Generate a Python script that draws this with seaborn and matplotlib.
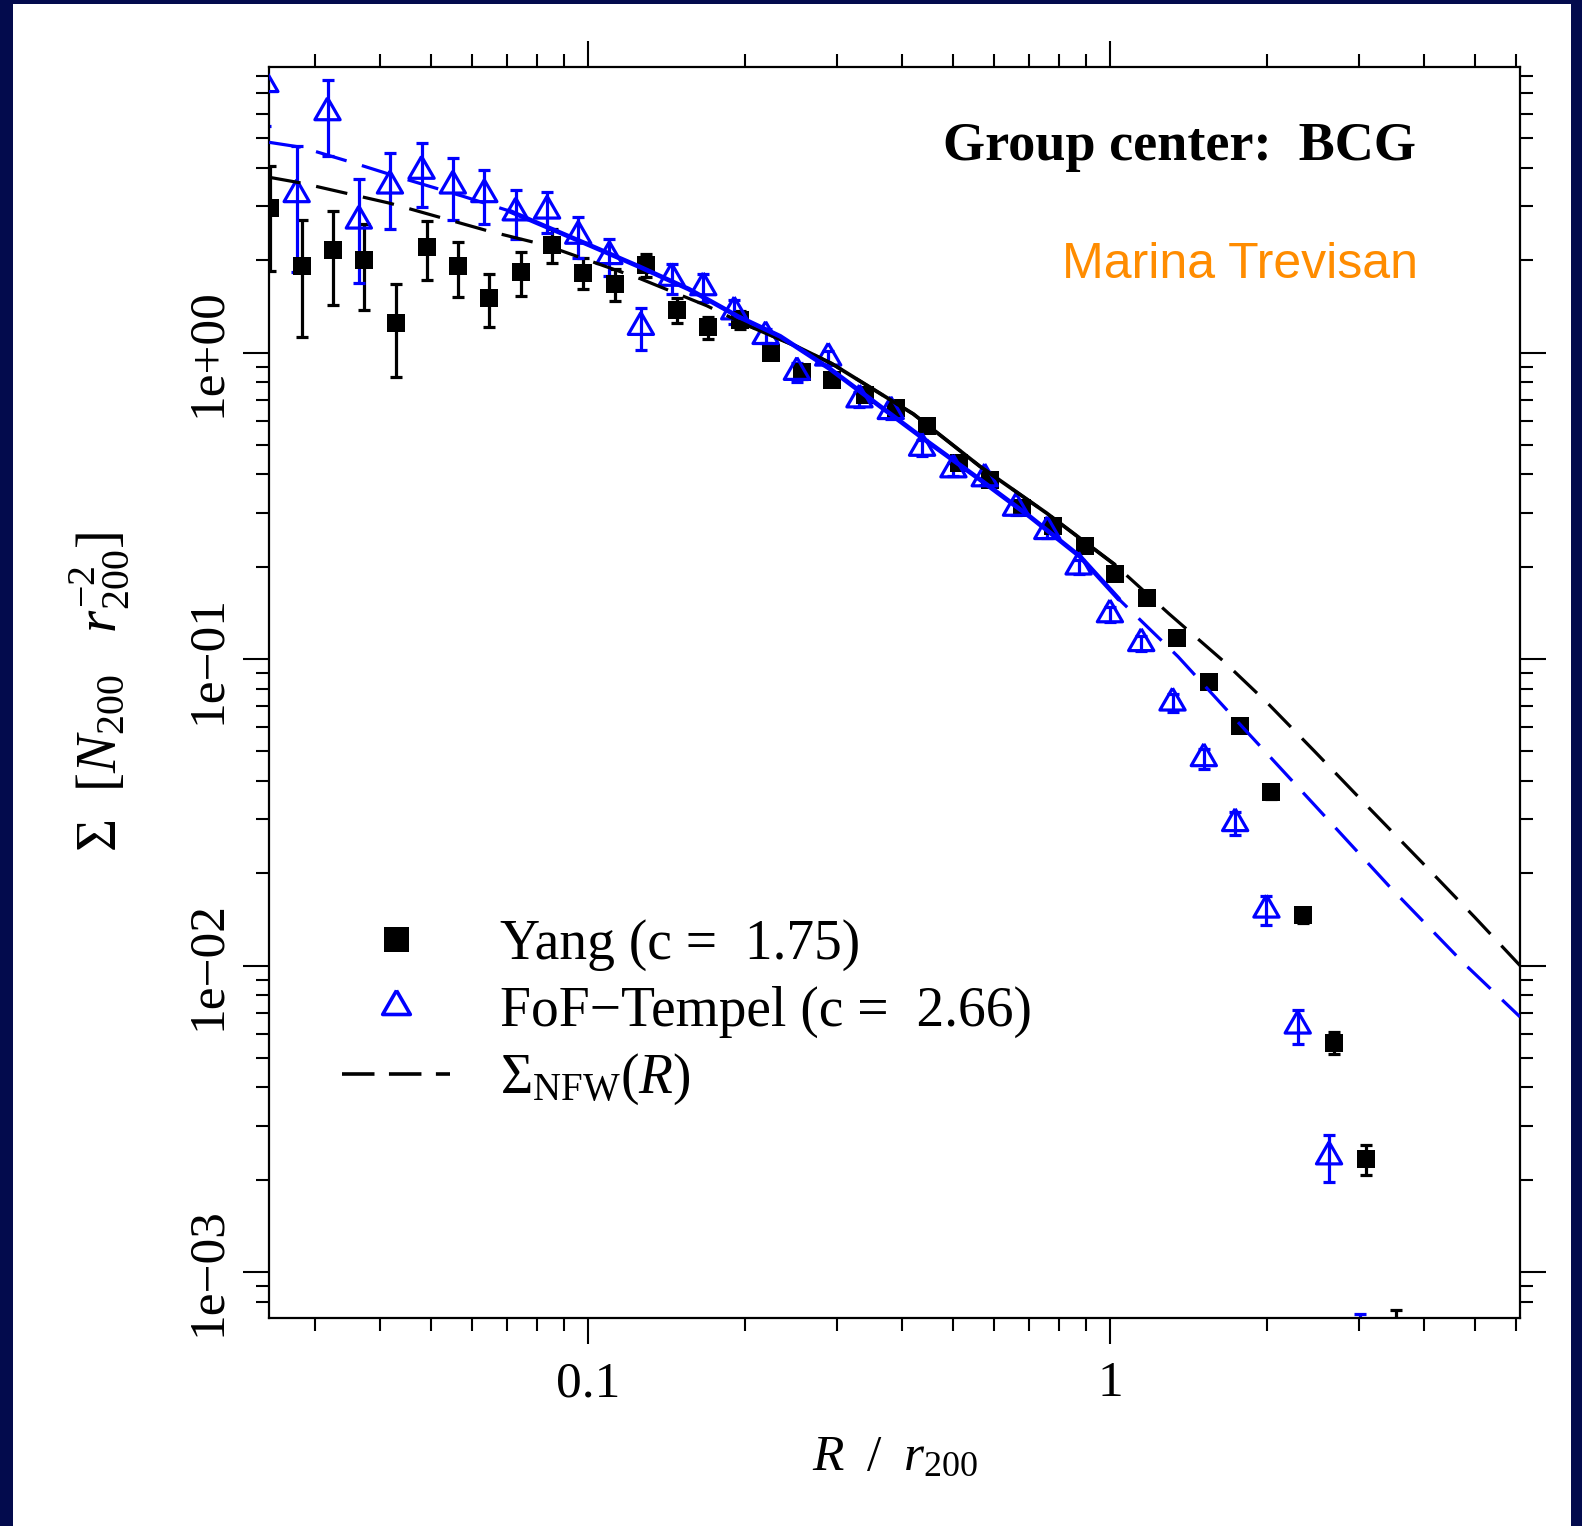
import numpy as np
import pandas as pd
import matplotlib
matplotlib.use("Agg")
import matplotlib.pyplot as plt
import matplotlib.patches as mpatches
from matplotlib.lines import Line2D
from matplotlib.ticker import LogLocator, NullFormatter
import seaborn as sns

# ---------------- data ----------------
yang_r = [0.0246, 0.0283, 0.0325, 0.0372, 0.0428, 0.0492, 0.0563, 0.0646, 0.0744, 0.0852,
          0.0980, 0.1127, 0.1290, 0.1480, 0.1700, 0.1955, 0.2240, 0.2566, 0.2940, 0.3394,
          0.3890, 0.4467, 0.5140, 0.5890, 0.6770, 0.7770, 0.8960, 1.0220, 1.1770, 1.3430,
          1.5480, 1.7740, 2.0330, 2.3430, 2.6860, 3.0930, 3.5300]
yang_sigma = [2.95, 1.91, 2.16, 2.00, 1.25, 2.21, 1.91, 1.51, 1.83, 2.24,
              1.82, 1.67, 1.93, 1.38, 1.21, 1.28, 1.00, 0.863, 0.816, 0.729,
              0.659, 0.574, 0.436, 0.385, 0.311, 0.271, 0.234, 0.190, 0.158, 0.117,
              0.0841, 0.0604, 0.0367, 0.01457, 0.0056, 0.00234, 0.0005]
yang_err = [1.10, 0.79, 0.73, 0.62, 0.42, 0.48, 0.39, 0.30, 0.30, 0.28,
            0.21, 0.20, 0.17, 0.13, 0.10, 0.09, 0.05, 0.045, 0.035, 0.03,
            0.025, 0.02, 0.018, 0.015, 0.012, 0.010, 0.008, 0.007, 0.006, 0.005,
            0.0035, 0.0025, 0.0017, 0.0008, 0.00045, 0.00026, 0.00025]

fof_r = [0.0241, 0.02767, 0.0317, 0.0364, 0.04175, 0.0480, 0.0551, 0.0633, 0.0727, 0.0835,
         0.0958, 0.1099, 0.1263, 0.1446, 0.1663, 0.1906, 0.2189, 0.2513, 0.2885, 0.3312,
         0.3802, 0.4365, 0.5012, 0.5754, 0.6605, 0.7583, 0.8706, 0.9995, 1.1475, 1.3174,
         1.5124, 1.7365, 1.9936, 2.2887, 2.6276, 3.0166]
fof_sigma = [7.5, 3.28, 6.07, 2.69, 3.50, 3.91, 3.50, 3.28, 2.86, 2.90,
             2.40, 2.06, 1.21, 1.75, 1.63, 1.36, 1.13, 0.863, 0.961, 0.702,
             0.643, 0.488, 0.415, 0.388, 0.311, 0.261, 0.200, 0.1397, 0.1125, 0.0720,
             0.0474, 0.0291, 0.0152, 0.00636, 0.00238, 0.00045]
fof_err = [2.0, 1.45, 1.70, 1.00, 0.98, 0.92, 0.80, 0.65, 0.52, 0.45,
           0.36, 0.29, 0.19, 0.20, 0.17, 0.12, 0.06, 0.06, 0.05, 0.04,
           0.035, 0.03, 0.02, 0.018, 0.015, 0.012, 0.010, 0.008, 0.006, 0.005,
           0.0035, 0.0025, 0.0016, 0.0008, 0.00041, 0.00028]

# NFW model curves
nfw_yang_r = [0.0245, 0.0283, 0.0417, 0.0645, 0.0829, 0.126, 0.169, 0.195, 0.25, 0.293,
              0.42, 0.5635, 0.7565, 1.022, 1.297, 1.644, 2.0, 2.476, 3.16, 3.98, 5.0, 6.1]
nfw_yang_sigma = [3.73, 3.57, 3.07, 2.49, 2.24, 1.74, 1.42, 1.26, 1.05, 0.92,
                  0.63, 0.425, 0.299, 0.203, 0.1405, 0.0989, 0.0720, 0.0496, 0.0322,
                  0.0215, 0.01435, 0.0100]
nfw_fof_r = [0.0245, 0.0283, 0.0353, 0.0426, 0.0574, 0.0705, 0.1, 0.125, 0.156, 0.194,
             0.2333, 0.29, 0.3625, 0.447, 0.5635, 0.703, 0.876, 1.04, 1.35, 1.784,
             2.476, 3.43, 4.76, 6.1]
nfw_fof_sigma = [4.85, 4.67, 4.17, 3.77, 3.24, 2.90, 2.25, 1.91, 1.61, 1.31,
                 1.13, 0.887, 0.668, 0.512, 0.385, 0.291, 0.216, 0.1567, 0.1018, 0.0606,
                 0.0331, 0.0181, 0.01017, 0.0068]
yang_fit_range = (0.195, 1.022)
fof_fit_range = (0.0705, 1.04)

xtick_values = [0.1, 1]
xtick_labels = ["0.1", "1"]
ytick_values = [1e-3, 1e-2, 1e-1, 1]
ytick_labels = ["1e\u221203", "1e\u221202", "1e\u221201", "1e+00"]

legend_labels = ["Yang (c =  1.75)", "FoF\u2212Tempel (c =  2.66)", r"$\Sigma_{\mathrm{NFW}}(R)$"]

# ---------------- style ----------------
sns.set_style("ticks")
plt.rcParams.update({
    "font.family": ["Liberation Serif", "DejaVu Serif"],
    "mathtext.fontset": "custom",
    "mathtext.rm": "Liberation Serif",
    "mathtext.it": "Liberation Serif:italic",
    "mathtext.bf": "Liberation Serif:bold",
    "axes.edgecolor": "black",
    "axes.linewidth": 1.6,
    "xtick.color": "black",
    "ytick.color": "black",
    "axes.labelcolor": "black",
    "text.color": "black",
    "axes.facecolor": "white",
})

W, H = 1582, 1526
fig = plt.figure(figsize=(W / 100, H / 100), dpi=100, facecolor="white")
navy = "#030B4D"
for (x0, y0, w, h) in [(0, 0, 13, H), (0, H - 4, W, 4), (W - 11, 0, 11, H)]:
    fig.add_artist(mpatches.Rectangle((x0 / W, y0 / H), w / W, h / H,
                                      transform=fig.transFigure, facecolor=navy,
                                      edgecolor="none"))

ax = fig.add_axes([269 / W, 1 - 1318 / H, (1520 - 269) / W, (1318 - 67) / H])
ax.set_xscale("log")
ax.set_yscale("log")

yang = pd.DataFrame({"r": yang_r, "sigma": yang_sigma, "err": yang_err})
fof = pd.DataFrame({"r": fof_r, "sigma": fof_sigma, "err": fof_err})
nfw_y = pd.DataFrame({"r": nfw_yang_r, "sigma": nfw_yang_sigma})
nfw_f = pd.DataFrame({"r": nfw_fof_r, "sigma": nfw_fof_sigma})

tri = [(0, 1.555), (1.347, -0.778), (-1.347, -0.778), (0, 1.555)]

# error bars
ax.errorbar(yang["r"], yang["sigma"], yerr=yang["err"], fmt="none", ecolor="black",
            elinewidth=2.3, capsize=4, capthick=2.3, zorder=2)
ax.errorbar(fof["r"], fof["sigma"], yerr=fof["err"], fmt="none", ecolor="blue",
            elinewidth=2.3, capsize=4, capthick=2.3, zorder=2.5)

# points
sns.scatterplot(data=yang, x="r", y="sigma", marker="s", color="black", s=170,
                linewidth=0, ax=ax, zorder=3, legend=False)
sns.scatterplot(data=fof, x="r", y="sigma", marker=tri, color="blue", facecolor="none",
                edgecolor="blue", s=440, linewidth=2.3, ax=ax, zorder=3.5, legend=False)

# NFW curves: dashed full range, solid over the fitted range
sns.lineplot(data=nfw_y, x="r", y="sigma", color="black", linewidth=2.3,
             estimator=None, sort=False, ax=ax, zorder=4)
ax.lines[-1].set_dashes((10, 5))
sns.lineplot(data=nfw_f, x="r", y="sigma", color="blue", linewidth=2.3,
             estimator=None, sort=False, ax=ax, zorder=4)
ax.lines[-1].set_dashes((10, 5))
seg_y = nfw_y[(nfw_y["r"] >= yang_fit_range[0]) & (nfw_y["r"] <= yang_fit_range[1])]
seg_f = nfw_f[(nfw_f["r"] >= fof_fit_range[0]) & (nfw_f["r"] <= fof_fit_range[1])]
sns.lineplot(data=seg_y, x="r", y="sigma", color="black", linewidth=2.7,
             estimator=None, sort=False, ax=ax, zorder=4.5)
sns.lineplot(data=seg_f, x="r", y="sigma", color="blue", linewidth=3.4,
             estimator=None, sort=False, ax=ax, zorder=5)

# axes
ax.set_xlim(0.02449, 6.10)
ax.set_ylim(7.08e-4, 8.54)
ax.set_xticks(xtick_values, labels=xtick_labels, fontsize=37)
ax.set_yticks(ytick_values, labels=ytick_labels, fontsize=37, rotation=90, va="center")
ax.xaxis.set_minor_locator(LogLocator(base=10, subs=np.arange(2, 10), numticks=50))
ax.yaxis.set_minor_locator(LogLocator(base=10, subs=np.arange(2, 10), numticks=50))
ax.xaxis.set_minor_formatter(NullFormatter())
ax.yaxis.set_minor_formatter(NullFormatter())
ax.tick_params(which="both", direction="out", top=True, right=True, width=1.5)
ax.tick_params(which="major", length=18.7)
ax.tick_params(which="minor", length=9.4)
ax.tick_params(axis="x", which="major", pad=12)
ax.tick_params(axis="y", which="major", pad=9)
for sp in ax.spines.values():
    sp.set_linewidth(1.6)
    sp.set_color("black")

ax.set_xlabel(r"$R\ \;/\ \;r_{200}$", fontsize=37, labelpad=20)
ax.set_ylabel(r"$\Sigma\ \ [N_{200}\ \ \ r_{200}^{-2}]$", fontsize=41, labelpad=38)

ax.text(0.917, 0.9257, "Group center:  BCG", transform=ax.transAxes, ha="right",
        va="baseline", fontsize=39, fontweight="bold", family="Liberation Serif")
ax.text(0.9185, 0.8313, "Marina Trevisan", transform=ax.transAxes, ha="right",
        va="baseline", fontsize=36, color="#FF8C00", family="Liberation Sans")

handles = [
    Line2D([], [], ls="none", marker="s", color="black", markersize=18, markeredgewidth=0),
    Line2D([], [], ls="none", marker=tri, markerfacecolor="none", markeredgecolor="blue",
           markersize=23, markeredgewidth=2.6),
    Line2D([], [], color="black", lw=2.6, dashes=(9, 4)),
]
ax.legend(handles, legend_labels, loc="center left", bbox_to_anchor=(0.0584, 0.2438),
          frameon=False, fontsize=40, handlelength=1.95, handletextpad=0.9,
          labelspacing=0.26, borderpad=0, borderaxespad=0)

fig.savefig("out.png", dpi=100)
